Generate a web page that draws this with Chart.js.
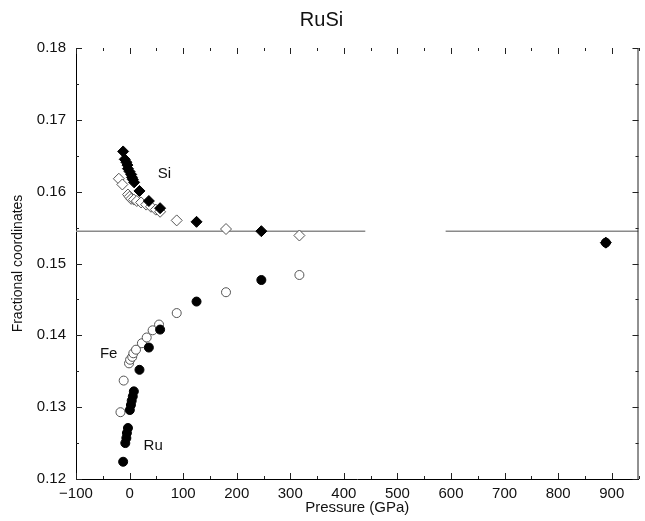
<!DOCTYPE html>
<html>
<head>
<meta charset="utf-8">
<script src="https://cdn.jsdelivr.net/npm/chart.js"></script>
<style>
  html, body { margin: 0; padding: 0; background: #fff; }
</style>
</head>
<body>
<canvas id="grafico" width="645" height="521"></canvas>
<script>
//Dados - Si (losangos cheios)
const siCheioP = [-12, -9, -6, -4, -3, 0, 3, 4.5, 6, 8.5, 18.5, 36, 57, 125, 246, 889]
const siCheioY = [0.1656, 0.1645, 0.1641, 0.1637, 0.1632, 0.1628, 0.1624, 0.1620, 0.1617, 0.1613, 0.1601, 0.1587, 0.1577, 0.1558, 0.1545, 0.1529]

//Dados - Si (losangos vazios)
const siAbertoP = [-20, -13.5, -3, 0, 3, 8, 13.5, 21.5, 31, 40, 49, 57, 88, 180, 317]
const siAbertoY = [0.1618, 0.1610, 0.1596, 0.1593, 0.1590, 0.1589, 0.1587, 0.1585, 0.1582, 0.1579, 0.1575, 0.1572, 0.1560, 0.1548, 0.1539]

//Dados - Ru (circulos cheios)
const ruP = [-12, -8, -6, -5, -3, 0.5, 2.5, 4, 6, 8, 18.5, 36, 57, 125, 246, 889]
const ruY = [0.1224, 0.1250, 0.1257, 0.1264, 0.1271, 0.1296, 0.1303, 0.1309, 0.1315, 0.1322, 0.1352, 0.1383, 0.1408, 0.1447, 0.1477, 0.1529]

//Dados - Fe (circulos vazios)
const feP = [-17, -11, -1, 1, 5, 7, 12, 23, 32, 43, 55, 88, 180, 317]
const feY = [0.1293, 0.1337, 0.1361, 0.1366, 0.1370, 0.1375, 0.1380, 0.1389, 0.1397, 0.1407, 0.1415, 0.1431, 0.1460, 0.1484]

//Linha de referencia (com falha no meio)
const linhaP = [-100, 440, 515, 590, 950]
const linhaY = [0.1545, 0.1545, null, 0.1545, 0.1545]

//Rotulos dentro do grafico
const rotulos = ['Si', 'Fe', 'Ru']
const rotulosP = [65, -39, 44]
const rotulosY = [0.1625, 0.1374, 0.1246]

const fonte = "'Liberation Sans', Arial, sans-serif"

const pares = (xs, ys) => xs.map((x, i) => ({ x: x, y: ys[i] }))

// plugin pra desenhar ticks pra dentro, borda direita e os rotulos
const ticksInternos = {
    id: 'ticksInternos',
    afterDatasetsDraw(chart) {
        const ctx = chart.ctx
        const { left, right, top, bottom } = chart.chartArea
        const sx = chart.scales.x
        const sy = chart.scales.y
        ctx.save()
        ctx.strokeStyle = '#222'
        ctx.lineWidth = 1
        ctx.beginPath()
        ctx.moveTo(right - 0.5, top)
        ctx.lineTo(right - 0.5, bottom)
        for (let v = -100; v <= 950; v += 50) {
            const x = Math.round(sx.getPixelForValue(v)) + 0.5
            const tam = v % 100 === 0 ? 6 : 3
            ctx.moveTo(x, bottom)
            ctx.lineTo(x, bottom - tam)
            ctx.moveTo(x, top)
            ctx.lineTo(x, top + tam)
        }
        for (let i = 0; i <= 12; i++) {
            const v = 0.12 + i * 0.005
            const y = Math.round(sy.getPixelForValue(v)) + 0.5
            const tam = i % 2 === 0 ? 6 : 3
            ctx.moveTo(left, y)
            ctx.lineTo(left + tam, y)
            ctx.moveTo(right, y)
            ctx.lineTo(right - tam, y)
        }
        ctx.stroke()

        ctx.fillStyle = '#111'
        ctx.font = '15px ' + fonte
        ctx.textAlign = 'center'
        ctx.textBaseline = 'middle'
        rotulos.forEach((txt, i) => {
            ctx.fillText(txt, sx.getPixelForValue(rotulosP[i]), sy.getPixelForValue(rotulosY[i]))
        })
        ctx.restore()
    }
}

const ctx = document.getElementById('grafico').getContext('2d')
new Chart(ctx, {
    type: 'scatter',
    data: {
        datasets: [
            {
                label: 'Si cheio',
                data: pares(siCheioP, siCheioY),
                pointStyle: 'rectRot',
                pointRadius: 5.5,
                backgroundColor: '#000',
                borderColor: '#000',
                borderWidth: 1,
                order: 1
            },
            {
                label: 'Ru',
                data: pares(ruP, ruY),
                pointStyle: 'circle',
                pointRadius: 4.5,
                backgroundColor: '#000',
                borderColor: '#000',
                borderWidth: 1,
                order: 1
            },
            {
                label: 'Si vazio',
                data: pares(siAbertoP, siAbertoY),
                pointStyle: 'rectRot',
                pointRadius: 5.5,
                backgroundColor: '#fff',
                borderColor: '#555',
                borderWidth: 1,
                order: 2
            },
            {
                label: 'Fe',
                data: pares(feP, feY),
                pointStyle: 'circle',
                pointRadius: 4.5,
                backgroundColor: '#fff',
                borderColor: '#555',
                borderWidth: 1,
                order: 2
            },
            {
                label: 'linha',
                data: pares(linhaP, linhaY),
                showLine: true,
                spanGaps: false,
                pointRadius: 0,
                borderColor: '#8a8a8a',
                borderWidth: 1.5,
                order: 10
            }
        ]
    },
    options: {
        responsive: false,
        animation: false,
        layout: { padding: { left: 0, right: 2, top: 0, bottom: 0 } },
        plugins: {
            legend: { display: false },
            tooltip: { enabled: false },
            title: {
                display: true,
                text: 'RuSi',
                color: '#111',
                font: { family: fonte, size: 20, weight: 'normal' },
                padding: { top: 8, bottom: 16 }
            }
        },
        scales: {
            x: {
                type: 'linear',
                min: -100,
                max: 950,
                grid: { display: false, drawTicks: false },
                border: { display: true, color: '#000', width: 1 },
                ticks: {
                    stepSize: 100,
                    includeBounds: false,
                    padding: 6,
                    color: '#111',
                    font: { family: fonte, size: 15 },
                    maxRotation: 0,
                    autoSkip: false,
                    callback: v => v < 0 ? '\u2212' + Math.abs(v) : String(v)
                },
                title: {
                    display: true,
                    text: 'Pressure (GPa)',
                    color: '#111',
                    font: { family: fonte, size: 15 },
                    padding: { top: 0, bottom: 4 }
                },
                afterFit(scale) { scale.height = 42 }
            },
            y: {
                type: 'linear',
                min: 0.12,
                max: 0.18,
                grid: { display: false, drawTicks: false },
                border: { display: true, color: '#000', width: 1 },
                ticks: {
                    stepSize: 0.01,
                    padding: 10,
                    color: '#111',
                    font: { family: fonte, size: 15 },
                    callback: v => v.toFixed(2)
                },
                title: {
                    display: true,
                    text: 'Fractional coordinates',
                    color: '#111',
                    font: { family: fonte, size: 14 },
                    padding: { top: 10, bottom: 0 }
                },
                afterFit(scale) { scale.width = 76 }
            }
        }
    },
    plugins: [ticksInternos]
})
</script>
</body>
</html>
